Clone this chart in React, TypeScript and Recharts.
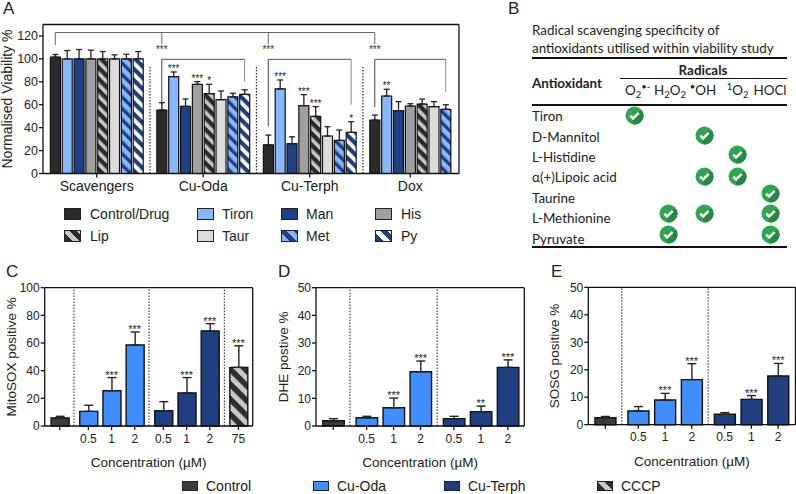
import { Bar, BarChart, Cell, ErrorBar, Label, ReferenceDot, ReferenceLine, XAxis, YAxis } from "recharts";

const arial = "'Liberation Sans', Arial, sans-serif";
const calibri = "Lato, 'Open Sans', sans-serif";

// panel A, one list per treatment group, same order as the legend
const scavengerLabels = ["Control/Drug", "Tiron", "Man", "His", "Lip", "Taur", "Met", "Py"];
const scavengerValues = [101.5, 100, 100, 100, 100, 100, 100, 100];
const scavengerErrors = [2.3, 7.3, 8.2, 7.6, 6.4, 3.5, 4, 6.4];
const scavengerStars = ["", "", "", "", "", "", "", ""];
const odaValues = [55.4, 84.5, 58.6, 77.8, 69.7, 64.4, 66.8, 69];
const odaErrors = [6.4, 4.1, 6.4, 2.4, 8.1, 7.6, 3.2, 4];
const odaStars = ["", "***", "", "***", "*", "", "", ""];
const terphValues = [25, 73.8, 26, 59.2, 49.9, 32.7, 28.9, 35.9];
const terphErrors = [8.5, 7.8, 6, 9.6, 8.4, 8.1, 9, 9.3];
const terphStars = ["", "***", "", "***", "***", "", "", "*"];
const doxValues = [46.6, 67.6, 54.8, 58.9, 60.6, 58.3, 56];
const doxErrors = [4.4, 5.9, 7.9, 2, 4.4, 4.4, 4];
const doxStars = ["", "**", "", "", "", "", ""];
const viabilityGroups = ["Scavengers", "Cu-Oda", "Cu-Terph", "Dox"];

// panels C, D, E
const concLabelsC = ["", "0.5", "1", "2", "0.5", "1", "2", "75"];
const mitoValues = [5.8, 10.6, 25.5, 58.6, 11, 23.9, 68.7, 42.4];
const mitoErrors = [1.2, 4.4, 9.5, 9.4, 6.6, 11.1, 5.3, 15.6];
const mitoStars = ["", "", "***", "***", "", "***", "***", "***"];
const concLabels = ["", "0.5", "1", "2", "0.5", "1", "2"];
const dheValues = [1.9, 3, 6.6, 19.6, 2.65, 5.2, 21.2];
const dheErrors = [0.75, 0.5, 3.5, 3.9, 0.85, 2, 2.7];
const dheStars = ["", "", "***", "***", "", "**", "***"];
const sosgValues = [2.55, 5, 9, 16.4, 3.8, 9.2, 17.7];
const sosgErrors = [0.45, 1.6, 2.4, 5.8, 0.6, 1.4, 4.6];
const sosgStars = ["", "", "***", "***", "", "***", "***"];

// panel B
const subStyle = { fontSize: 9.5, lineHeight: 0, verticalAlign: "-3px" };
const supStyle = { fontSize: 9.5, lineHeight: 0, verticalAlign: "5px" };
const radicalHeads = [
  <>O<span style={subStyle}>2</span><span style={supStyle}>•-</span></>,
  <>H<span style={subStyle}>2</span>O<span style={subStyle}>2</span></>,
  <><span style={supStyle}>•</span>OH</>,
  <><span style={supStyle}>1</span>O<span style={subStyle}>2</span></>,
  <>HOCl</>
];
const antioxidants = ["Tiron", "D-Mannitol", "L-Histidine", "α(+)Lipoic acid", "Taurine", "L-Methionine", "Pyruvate"];
const scavenged = [[0], [2], [3], [2, 3], [4], [1, 2, 4], [1, 4]];

const viabilityFills = ["#2b2b2b", "#86b8fb", "#1f3f86", "#a0a0a0", "url(#lipStripe)", "#dcdcdc", "url(#metStripe)", "url(#pyStripe)"];
const controlFill = "#3c3c3c";
const odaFill = "#3f8efc";
const terphFill = "#1f3f80";

type Row = { x: number; value: number; error: number[]; stars: string; label: string; fill: string };

function buildRows(
  groups: { values: number[]; errors: number[]; stars: string[]; fills: string[]; labels?: string[] }[],
  groupGap: number
) {
  const rows: Row[] = [];
  let index = 0;
  groups.forEach((group, groupIndex) => {
    group.values.forEach((value, i) => {
      rows.push({
        x: index + groupIndex * groupGap,
        value,
        error: [0, group.errors[i]],
        stars: group.stars[i],
        label: group.labels ? group.labels[i] : "",
        fill: group.fills[i]
      });
      index += 1;
    });
  });
  return rows;
}

const viabilityRows = buildRows(
  [
    { values: scavengerValues, errors: scavengerErrors, stars: scavengerStars, fills: viabilityFills },
    { values: odaValues, errors: odaErrors, stars: odaStars, fills: viabilityFills },
    { values: terphValues, errors: terphErrors, stars: terphStars, fills: viabilityFills },
    { values: doxValues, errors: doxErrors, stars: doxStars, fills: viabilityFills }
  ],
  1
);

function concRows(values: number[], errors: number[], stars: string[], labels: string[]) {
  const split = (from: number, to: number, fill: string) => ({
    values: values.slice(from, to),
    errors: errors.slice(from, to),
    stars: stars.slice(from, to),
    labels: labels.slice(from, to),
    fills: values.slice(from, to).map(() => fill)
  });
  const groups = [split(0, 1, controlFill), split(1, 4, odaFill), split(4, 7, terphFill)];
  if (values.length > 7) groups.push(split(7, 8, "url(#cccpStripe)"));
  return buildRows(groups, 0.235);
}

const mitoRows = concRows(mitoValues, mitoErrors, mitoStars, concLabelsC);
const dheRows = concRows(dheValues, dheErrors, dheStars, concLabels);
const sosgRows = concRows(sosgValues, sosgErrors, sosgStars, concLabels);

type ConcPanelProps = {
  rows: Row[];
  left: number;
  plotLeft: number;
  plotRight: number;
  plotTop: number;
  plotBottom: number;
  xDomain: number[];
  yMax: number;
  yTicks: number[];
  separators: number[];
  barSize: number;
  yLabel: string;
  yLabelOffset: number;
  width: number;
};

function ConcPanel(p: ConcPanelProps) {
  const height = 206;
  return (
    <div style={{ position: "absolute", left: p.left, top: 270 }}>
      <BarChart
        width={p.width}
        height={height}
        data={p.rows}
        barSize={p.barSize}
        margin={{ top: p.plotTop - 270, right: p.left + p.width - p.plotRight, bottom: 270 + height - p.plotBottom - 44, left: 0 }}
      >
        <XAxis
          type="number"
          dataKey="x"
          domain={p.xDomain}
          ticks={p.rows.map((r) => r.x)}
          interval={0}
          tickFormatter={(v: number) => p.rows.find((r) => r.x === v)?.label ?? ""}
          height={44}
          tick={{ fill: "#222", fontSize: 12, fontFamily: arial }}
          tickSize={4}
          tickMargin={4}
          stroke="#111"
          strokeWidth={1.3}
        >
          <Label value="Concentration (µM)" position="insideBottom" offset={3} fill="#222" fontSize={13.5} fontFamily={arial} />
        </XAxis>
        <YAxis
          type="number"
          domain={[0, p.yMax]}
          ticks={p.yTicks}
          interval={0}
          width={p.plotLeft - p.left}
          tick={{ fill: "#222", fontSize: 12, fontFamily: arial }}
          tickSize={4}
          tickMargin={1}
          stroke="#111"
          strokeWidth={1.3}
        >
          <Label
            value={p.yLabel}
            angle={-90}
            position="insideLeft"
            offset={p.yLabelOffset}
            fill="#222"
            fontSize={13.5}
            fontFamily={arial}
            style={{ textAnchor: "middle" }}
          />
        </YAxis>
        <ReferenceLine y={p.yMax} stroke="#111" strokeWidth={1.3} />
        <ReferenceLine x={p.xDomain[1]} stroke="#111" strokeWidth={1.3} />
        {p.separators.map((x) => (
          <ReferenceLine key={x} x={x} stroke="#444" strokeWidth={1.2} strokeDasharray="1.5 1.5" />
        ))}
        <Bar dataKey="value" stroke="#111" strokeWidth={1.4} isAnimationActive={false}>
          {p.rows.map((r) => (
            <Cell key={r.x} fill={r.fill} />
          ))}
          <ErrorBar dataKey="error" direction="y" width={4.5} stroke="#222" strokeWidth={1.4} isAnimationActive={false} />
        </Bar>
        {p.rows
          .filter((r) => r.stars)
          .map((r) => (
            <ReferenceDot
              key={r.x}
              x={r.x}
              y={r.value + r.error[1]}
              r={0}
              stroke="none"
              label={{ value: r.stars, position: "top", offset: -1, fontSize: 11, fill: "#222", fontFamily: arial }}
            />
          ))}
      </BarChart>
    </div>
  );
}

function ViabilityPanel() {
  const groupCentres = [3.5, 12.5, 21.5, 30];
  const topBracket = [
    [{ x: 0, y: 123 }, { x: 27, y: 123 }],
    [{ x: 0, y: 123 }, { x: 0, y: 112 }],
    [{ x: 9, y: 123 }, { x: 9, y: 113 }],
    [{ x: 18, y: 123 }, { x: 18, y: 113 }],
    [{ x: 27, y: 123 }, { x: 27, y: 113 }]
  ];
  const subBrackets = [
    { from: 9, to: 16, leftEnd: 60, rightEnd: 80 },
    { from: 18, to: 25, leftEnd: 41, rightEnd: 60 },
    { from: 27, to: 33, leftEnd: 58, rightEnd: 71 }
  ];
  const bracketTop = 99.6;
  return (
    <div style={{ position: "absolute", left: 0, top: 0 }}>
      <BarChart
        width={470}
        height={206}
        data={viabilityRows}
        barSize={10}
        margin={{ top: 24.5, right: 11, bottom: 2.5, left: 0 }}
      >
        <XAxis
          type="number"
          dataKey="x"
          domain={[-1.04, 34.12]}
          ticks={groupCentres}
          interval={0}
          tickFormatter={(v: number) => viabilityGroups[groupCentres.indexOf(v)]}
          height={30}
          tick={{ fill: "#222", fontSize: 14, fontFamily: arial }}
          tickSize={4}
          tickMargin={4}
          stroke="#111"
          strokeWidth={1.3}
        />
        <YAxis
          type="number"
          domain={[0, 130]}
          ticks={[0, 20, 40, 60, 80, 100, 120]}
          interval={0}
          width={43}
          tick={{ fill: "#222", fontSize: 12.5, fontFamily: arial }}
          tickSize={4}
          tickMargin={1}
          stroke="#111"
          strokeWidth={1.3}
        >
          <Label
            value="Normalised Viability %"
            angle={-90}
            position="insideLeft"
            offset={7}
            fill="#222"
            fontSize={14}
            fontFamily={arial}
            style={{ textAnchor: "middle" }}
          />
        </YAxis>
        <ReferenceLine y={130} stroke="#111" strokeWidth={1.3} />
        <ReferenceLine x={34.12} stroke="#111" strokeWidth={1.3} />
        {[8, 17, 26].map((x) => (
          <ReferenceLine
            key={x}
            segment={[{ x, y: 0 }, { x, y: 93 }]}
            stroke="#333"
            strokeWidth={1.2}
            strokeDasharray="1.5 1.5"
          />
        ))}
        {topBracket.map((segment, i) => (
          <ReferenceLine key={i} segment={segment} stroke="#666" strokeWidth={1} />
        ))}
        {subBrackets.map((b) => (
          <ReferenceLine key={`t${b.from}`} segment={[{ x: b.from, y: bracketTop }, { x: b.to, y: bracketTop }]} stroke="#555" strokeWidth={1} />
        ))}
        {subBrackets.map((b) => (
          <ReferenceLine key={`l${b.from}`} segment={[{ x: b.from, y: bracketTop }, { x: b.from, y: b.leftEnd }]} stroke="#444" strokeWidth={1} />
        ))}
        {subBrackets.map((b) => (
          <ReferenceLine key={`r${b.from}`} segment={[{ x: b.to, y: bracketTop }, { x: b.to, y: b.rightEnd }]} stroke="#888" strokeWidth={1} />
        ))}
        {[9, 18, 27].map((x) => (
          <ReferenceDot
            key={x}
            x={x}
            y={108.6}
            r={0}
            stroke="none"
            label={{ value: "***", position: "center", fontSize: 10, fill: "#333", fontFamily: arial }}
          />
        ))}
        <Bar dataKey="value" stroke="#111" strokeWidth={1.2} isAnimationActive={false}>
          {viabilityRows.map((r) => (
            <Cell key={r.x} fill={r.fill} />
          ))}
          <ErrorBar dataKey="error" direction="y" width={3} stroke="#222" strokeWidth={1.3} isAnimationActive={false} />
        </Bar>
        {viabilityRows
          .filter((r) => r.stars)
          .map((r) => (
            <ReferenceDot
              key={r.x}
              x={r.x}
              y={r.value + r.error[1]}
              r={0}
              stroke="none"
              label={{ value: r.stars, position: "top", offset: 0, fontSize: 10, fill: "#222", fontFamily: arial }}
            />
          ))}
      </BarChart>
    </div>
  );
}

function Swatch({ x, y, width, height, fill, text, textX }: { x: number; y: number; width: number; height: number; fill: string; text: string; textX: number }) {
  return (
    <>
      <div style={{ position: "absolute", left: x, top: y, width, height, background: fill, border: "1.4px solid #222", boxSizing: "border-box" }} />
      <div style={{ position: "absolute", left: textX, top: y + height / 2 - 9, lineHeight: "18px", fontSize: 14, fontFamily: arial, color: "#222", whiteSpace: "nowrap" }}>
        {text}
      </div>
    </>
  );
}

const stripe = (a: string, b: string) =>
  `repeating-linear-gradient(45deg, ${a} 0 5px, ${b} 5px 10px)`;

const legendBackgrounds = [
  "#2b2b2b",
  "#86b8fb",
  "#1f3f86",
  "#a0a0a0",
  stripe("#2b2b2b", "#c8c8c8"),
  "#dcdcdc",
  stripe("#86b8fb", "#1f3f80"),
  stripe("#1f3f80", "#ffffff")
];

function ViabilityLegend() {
  const columns = [64, 197, 281, 375];
  const textColumns = [90, 222, 306, 401];
  return (
    <>
      {scavengerLabels.map((label, i) => (
        <Swatch
          key={label}
          x={columns[i % 4]}
          y={i < 4 ? 208 : 230}
          width={17}
          height={12}
          fill={legendBackgrounds[i]}
          text={label}
          textX={textColumns[i % 4]}
        />
      ))}
    </>
  );
}

function Check({ cx, cy }: { cx: number; cy: number }) {
  return (
    <svg style={{ position: "absolute", left: cx - 9.5, top: cy - 9.5 }} width={19} height={19} viewBox="-9.5 -9.5 19 19">
      <circle r={9} fill="#2ea551" />
      <path d="M7.8 -4.5 A9 9 0 0 1 -1 8.9 L-3 2 L3 -4 Z" fill="#238a44" />
      <path d="M-4.2 0.2 L-1.4 3 L4.2 -2.6" fill="none" stroke="#fff" strokeWidth={2.6} />
    </svg>
  );
}

function RadicalTable() {
  const rowY = [116, 136.5, 156.8, 177.3, 197.7, 218, 238.6];
  const checkY = [115.7, 135.7, 154, 176.7, 193.7, 213.3, 234];
  const headX = [637.7, 670, 703, 737.7, 770];
  const checkX = [634.3, 668, 704.7, 737, 770.7];
  const text = { position: "absolute" as const, fontFamily: calibri, color: "#222", whiteSpace: "nowrap" as const, lineHeight: "18px", fontSize: 13.4 };
  const rule = (top: number, left: number, h: number) => (
    <div style={{ position: "absolute", left, top, width: 787 - left, height: h, background: "#111" }} />
  );
  return (
    <>
      <div style={{ ...text, left: 532, top: 21 }}>Radical scavenging specificity of</div>
      <div style={{ ...text, left: 532, top: 39 }}>antioxidants utilised within viability study</div>
      {rule(57, 532, 2)}
      <div style={{ ...text, left: 703, top: 61, transform: "translateX(-50%)", fontWeight: 700 }}>Radicals</div>
      {rule(78, 620, 1)}
      <div style={{ ...text, left: 532, top: 74, fontWeight: 700 }}>Antioxidant</div>
      {radicalHeads.map((head, i) => (
        <div key={i} style={{ ...text, left: headX[i], top: 81, transform: "translateX(-50%)" }}>
          {head}
        </div>
      ))}
      {rule(103.5, 532, 2)}
      {antioxidants.map((name, i) => (
        <div key={name} style={{ ...text, left: 532, top: rowY[i] - 9 }}>
          {name}
        </div>
      ))}
      {scavenged.map((cols, i) => cols.map((c) => <Check key={`${i}-${c}`} cx={checkX[c]} cy={checkY[i]} />))}
      {rule(246, 532, 2)}
    </>
  );
}

function PanelLetter({ x, y, children }: { x: number; y: number; children: string }) {
  return (
    <div style={{ position: "absolute", left: x, top: y - 8, lineHeight: "16px", fontSize: 17, fontFamily: arial, color: "#222" }}>{children}</div>
  );
}

export default function App() {
  return (
    <div style={{ position: "fixed", left: 0, top: 0, width: 796, height: 494, background: "#fff", overflow: "hidden" }}>
      <svg width={0} height={0} style={{ position: "absolute" }}>
        <defs>
          <pattern id="lipStripe" width={8} height={8} patternUnits="userSpaceOnUse" patternTransform="rotate(-45)">
            <rect width={8} height={8} fill="#2b2b2b" />
            <rect width={3.6} height={8} fill="#c8c8c8" />
          </pattern>
          <pattern id="metStripe" width={8} height={8} patternUnits="userSpaceOnUse" patternTransform="rotate(-45)">
            <rect width={8} height={8} fill="#86b8fb" />
            <rect width={3.4} height={8} fill="#1f3f80" />
          </pattern>
          <pattern id="pyStripe" width={8} height={8} patternUnits="userSpaceOnUse" patternTransform="rotate(-45)">
            <rect width={8} height={8} fill="#1f3f80" />
            <rect width={3.8} height={8} fill="#ffffff" />
          </pattern>
          <pattern id="cccpStripe" width={10.6} height={10.6} patternUnits="userSpaceOnUse" patternTransform="rotate(-45)">
            <rect width={10.6} height={10.6} fill="#2e2e2e" />
            <rect width={5} height={10.6} fill="#c8c8c8" />
          </pattern>
        </defs>
      </svg>
      <PanelLetter x={3} y={9}>A</PanelLetter>
      <PanelLetter x={508} y={9}>B</PanelLetter>
      <PanelLetter x={6} y={272}>C</PanelLetter>
      <PanelLetter x={278} y={272}>D</PanelLetter>
      <PanelLetter x={551} y={272}>E</PanelLetter>
      <ViabilityPanel />
      <ViabilityLegend />
      <RadicalTable />
      <ConcPanel
        rows={mitoRows}
        left={0}
        width={262}
        plotLeft={44.7}
        plotRight={252.7}
        plotTop={287.7}
        plotBottom={426}
        xDomain={[-0.647, 8.32]}
        yMax={100}
        yTicks={[0, 20, 40, 60, 80, 100]}
        separators={[0.615, 3.85, 7.1]}
        barSize={18}
        yLabel="MitoSOX positive %"
        yLabelOffset={11}
      />
      <ConcPanel
        rows={dheRows}
        left={272}
        width={258}
        plotLeft={316}
        plotRight={524.3}
        plotTop={287.7}
        plotBottom={426}
        xDomain={[-0.64, 7.08]}
        yMax={50}
        yTicks={[0, 10, 20, 30, 40, 50]}
        separators={[0.617, 3.85]}
        barSize={21.5}
        yLabel="DHE postive %"
        yLabelOffset={11}
      />
      <ConcPanel
        rows={sosgRows}
        left={544}
        width={252}
        plotLeft={588.3}
        plotRight={795.5}
        plotTop={287.3}
        plotBottom={424.7}
        xDomain={[-0.637, 7.12]}
        yMax={50}
        yTicks={[0, 10, 20, 30, 40, 50]}
        separators={[0.617, 3.85]}
        barSize={21}
        yLabel="SOSG positive %"
        yLabelOffset={10}
      />
      <Swatch x={182} y={481} width={16} height={10} fill={controlFill} text="Control" textX={206} />
      <Swatch x={313} y={481} width={16} height={10} fill={odaFill} text="Cu-Oda" textX={337} />
      <Swatch x={444} y={481} width={16} height={10} fill={terphFill} text="Cu-Terph" textX={468} />
      <Swatch x={597} y={481} width={16} height={10} fill={stripe("#2e2e2e", "#c8c8c8")} text="CCCP" textX={621} />
    </div>
  );
}
